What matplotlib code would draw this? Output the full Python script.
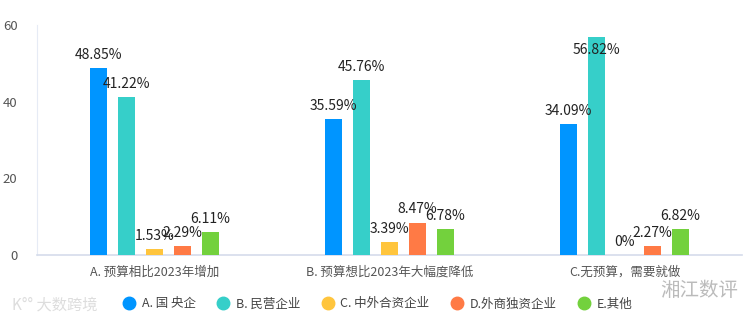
import matplotlib
matplotlib.use("Agg")
import matplotlib.pyplot as plt
import numpy as np
from matplotlib.lines import Line2D

plt.rcParams['font.family'] = ['Noto Sans CJK SC', 'DejaVu Sans']

categories = ["A. 预算相比2023年增加", "B. 预算想比2023年大幅度降低", "C.无预算，需要就做"]
series_names = ["A. 国 央企", "B. 民营企业", "C. 中外合资企业", "D.外商独资企业", "E.其他"]
s_a = [48.85, 35.59, 34.09]
s_b = [41.22, 45.76, 56.82]
s_c = [1.53, 3.39, 0.0]
s_d = [2.29, 8.47, 2.27]
s_e = [6.11, 6.78, 6.82]
series = [s_a, s_b, s_c, s_d, s_e]
colors = ["#0095FF", "#36CFC9", "#FFC53D", "#FF7A45", "#73D13D"]
yticks = [0, 20, 40, 60]

fig = plt.figure(figsize=(7.54, 3.25), dpi=100)
ax = fig.add_axes([37/754, 1-255/325, 705/754, 230/325])

step = 28/235
width = 17/235
x = np.arange(len(categories))
for i, (vals, c) in enumerate(zip(series, colors)):
    pos = x + (i-2)*step
    ax.bar(pos, vals, width=width, color=c, zorder=3)
    for p, v in zip(pos, vals):
        ly = min(v + 3.4, 53.5)
        ax.text(p, ly, f"{v:g}%", ha='center', va='center', fontsize=10, color='#222222', zorder=4)

ax.set_xlim(-0.5, 2.5)
ax.set_ylim(0, 60)
ax.set_yticks(yticks)
ax.set_xticks(x)
ax.set_xticklabels(categories, fontsize=9, color='#555555')
ax.tick_params(axis='y', length=0, labelsize=9.5, colors='#555555', pad=14)
ax.tick_params(axis='x', length=0, pad=8)
for s in ['top', 'right']:
    ax.spines[s].set_visible(False)
ax.spines['left'].set_color('#E6EBF5')
ax.spines['bottom'].set_color('#D5DCEB')
ax.spines['bottom'].set_linewidth(1.2)

handles = [Line2D([], [], marker='o', linestyle='none', markersize=9, markerfacecolor=c, markeredgecolor=c) for c in colors]
leg = fig.legend(handles, series_names, loc='center', bbox_to_anchor=(0.5, 1-304/325), ncol=5,
                 frameon=False, fontsize=9, handletextpad=0.4, handlelength=1.2, columnspacing=1.6)
for t in leg.get_texts():
    t.set_color('#444444')

fig.text(12/754, 1-305/325, "K°° 大数跨境", fontsize=11, color='#DDDDDD', va='center', ha='left')
fig.text(660/754, 1-290/325, "湘江数评", fontsize=14, color='#BBBBBB', va='center', ha='left')

fig.savefig("out.png", dpi=100)
